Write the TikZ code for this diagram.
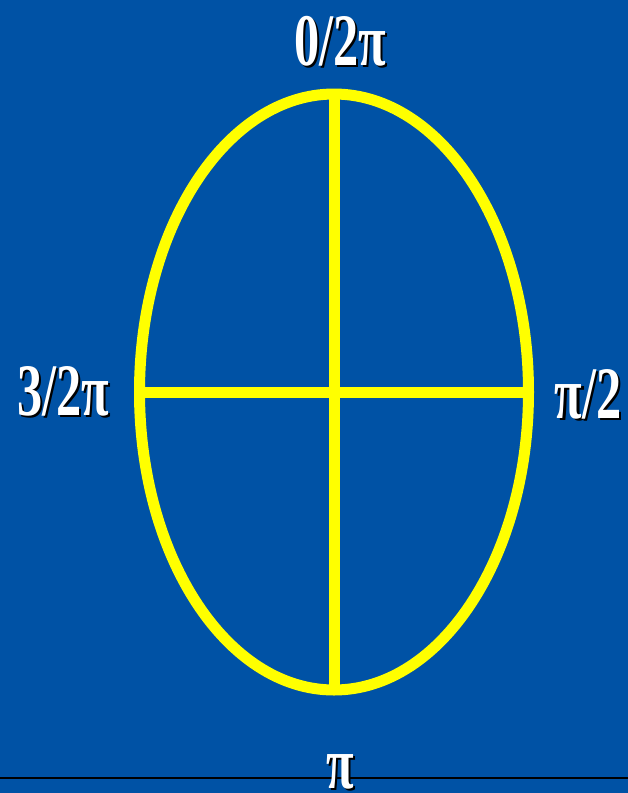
\documentclass[tikz,border=0pt]{standalone}
\usepackage{fontspec}
\setmainfont{Liberation Serif}
\usetikzlibrary{shapes.geometric}
\definecolor{bgblue}{RGB}{0,82,165}
\definecolor{ylw}{RGB}{255,255,0}
\tikzset{
  lbl/.style={anchor=base, inner sep=0pt, text=white, font=\bfseries\fontsize{74}{74}\selectfont, xscale=0.68},
  shadowlbl/.style={lbl, text=black},
  ring/.style={ellipse, draw=ylw, line width=11pt, inner sep=0pt, outer sep=0pt},
  axis/.style={draw=ylw, line width=11pt}
}
\begin{document}
\begin{tikzpicture}[x=1pt,y=-1pt]
\fill[bgblue] (0,0) rectangle (628,793);
\useasboundingbox (0,0) rectangle (628,793);
% bottom black rule
\coordinate (rl) at (0,778);
\coordinate (rr) at (628,778);
\draw[black, line width=2.5pt] (rl) -- (rr);
% ellipse
\node[ring, minimum width=389pt, minimum height=596pt] (e) at (334,392) {};
\draw[axis] (e.north) -- (e.south);
\draw[axis] (e.west) -- (e.east);
% labels with shadows
\node[shadowlbl] (ts) at (342.5,67.5) {0/2π};
\node[lbl] (t) at (340,65) {0/2π};
\node[shadowlbl] (ls) at (65.5,417.5) {3/2π};
\node[lbl] (l) at (63,415) {3/2π};
\node[shadowlbl] (rs) at (590.5,420.5) {π/2};
\node[lbl] (r) at (588,418) {π/2};
\node[shadowlbl] (bs) at (342.5,790.5) {π};
\node[lbl] (b) at (340,788) {π};
\end{tikzpicture}
\end{document}
